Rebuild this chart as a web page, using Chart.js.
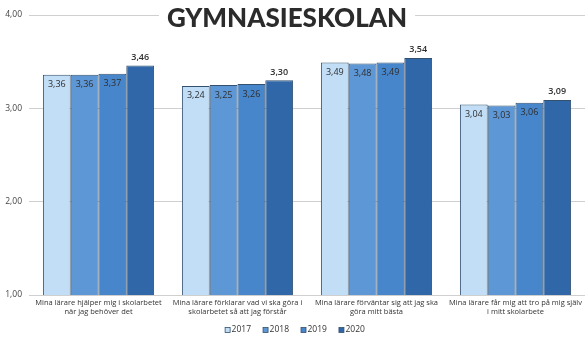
<!DOCTYPE html>
<html>
<head>
<meta charset="utf-8">
<script src="https://cdn.jsdelivr.net/npm/chart.js@4/dist/chart.umd.min.js"></script>
<style>
  html, body { margin: 0; padding: 0; background: #fff; }
  #wrap { width: 587px; height: 338px; }
</style>
</head>
<body>
<div id="wrap"><canvas id="myChart" width="587" height="338"></canvas></div>
<script>
// chart data
var categories = [
    ['Mina lärare hjälper mig i skolarbetet', 'när jag behöver det'],
    ['Mina lärare förklarar vad vi ska göra i', 'skolarbetet så att jag förstår'],
    ['Mina lärare förväntar sig att jag ska', 'göra mitt bästa'],
    ['Mina lärare får mig att tro på mig själv', 'i mitt skolarbete']
];
var years = ['2017', '2018', '2019', '2020'];
var values2017 = [3.36, 3.24, 3.49, 3.04];
var values2018 = [3.36, 3.25, 3.48, 3.03];
var values2019 = [3.37, 3.26, 3.49, 3.06];
var values2020 = [3.46, 3.30, 3.54, 3.09];
var yTicks = [1, 2, 3, 4];
var title = 'GYMNASIESKOLAN';

var colors = ['#c2def6', '#5e97d6', '#4886cb', '#2f67a9'];

function fmt(v) {
    return v.toFixed(2).replace('.', ',');
}

// title drawn over the top gridline, with a white box behind it
var titlePlugin = {
    id: 'titleBox',
    afterDraw: function (chart) {
        var ctx = chart.ctx;
        ctx.save();
        ctx.font = '900 26px Lato';
        var w = ctx.measureText(title).width;
        var cx = 287;
        ctx.fillStyle = '#fff';
        ctx.fillRect(cx - w / 2 - 8, 2, w + 16, 28);
        ctx.fillStyle = '#2b2b2b';
        ctx.textAlign = 'center';
        ctx.textBaseline = 'middle';
        ctx.fillText(title, cx, 19);
        ctx.restore();
    }
};

// small legend at the bottom, boxes tight against the years
var legendPlugin = {
    id: 'smallLegend',
    afterDraw: function (chart) {
        var ctx = chart.ctx;
        ctx.save();
        ctx.font = '8.5px "Open Sans"';
        ctx.textBaseline = 'middle';
        var items = chart.data.datasets.map(function (ds) {
            return { text: ds.label, color: ds.backgroundColor, w: ctx.measureText(ds.label).width };
        });
        var box = 5, gap = 1.5, space = 12;
        var total = 0;
        items.forEach(function (it, k) {
            total += box + gap + it.w + (k < items.length - 1 ? space : 0);
        });
        var x = 295 - total / 2;
        var y = 330;
        items.forEach(function (it) {
            ctx.fillStyle = it.color;
            ctx.fillRect(x, y - box / 2, box, box);
            ctx.strokeStyle = '#33506f';
            ctx.lineWidth = 0.8;
            ctx.strokeRect(x, y - box / 2, box, box);
            ctx.fillStyle = '#333';
            ctx.fillText(it.text, x + box + gap, y);
            x += box + gap + it.w + space;
        });
        ctx.restore();
    }
};

// value labels: inside the top of the bar, last year above it
var valuePlugin = {
    id: 'values',
    afterDatasetsDraw: function (chart) {
        var ctx = chart.ctx;
        ctx.save();
        ctx.textAlign = 'center';
        ctx.textBaseline = 'middle';
        chart.data.datasets.forEach(function (ds, i) {
            var meta = chart.getDatasetMeta(i);
            meta.data.forEach(function (bar, j) {
                var last = i === chart.data.datasets.length - 1;
                ctx.font = (last ? '600 ' : '400 ') + '9px "Open Sans"';
                ctx.fillStyle = '#2e2e2e';
                var y = last ? bar.y - 8 : bar.y + 10;
                ctx.fillText(fmt(ds.data[j]), bar.x, y);
            });
        });
        ctx.restore();
    }
};

var ctx = document.getElementById('myChart').getContext('2d');
var chart = new Chart(ctx, {
    type: 'bar',
    data: {
        labels: categories,
        datasets: [
            { label: years[0], data: values2017, backgroundColor: colors[0] },
            { label: years[1], data: values2018, backgroundColor: colors[1] },
            { label: years[2], data: values2019, backgroundColor: colors[2] },
            { label: years[3], data: values2020, backgroundColor: colors[3] }
        ].map(function (d) {
            d.borderColor = '#33506f';
            d.borderWidth = 1;
            d.categoryPercentage = 0.8;
            d.barPercentage = 1.0;
            return d;
        })
    },
    options: {
        responsive: false,
        animation: false,
        layout: { padding: { top: 15, right: 2, left: 0, bottom: 19 } },
        plugins: {
            legend: { display: false },
            tooltip: { enabled: false }
        },
        scales: {
            x: {
                grid: { display: false, drawTicks: false },
                border: { display: false },
                ticks: {
                    color: '#333',
                    font: { family: 'Open Sans', size: 7.5 },
                    padding: 3,
                    maxRotation: 0,
                    autoSkip: false
                }
            },
            y: {
                min: 1,
                max: 4,
                afterFit: function (scale) { scale.width = 29; },
                afterBuildTicks: function (scale) {
                    scale.ticks = yTicks.map(function (v) { return { value: v }; });
                },
                grid: { color: '#cfcfcf', drawTicks: false },
                border: { display: false },
                ticks: {
                    color: '#444',
                    font: { family: 'Open Sans', size: 8.5 },
                    padding: 7,
                    callback: function (v) { return fmt(v); }
                }
            }
        }
    },
    plugins: [valuePlugin, titlePlugin, legendPlugin]
});
</script>
</body>
</html>
